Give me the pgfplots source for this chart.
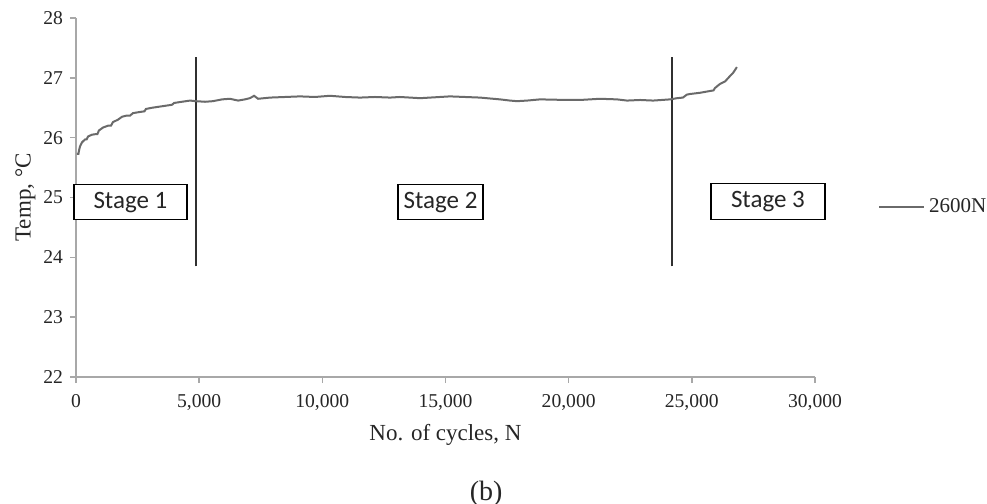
\documentclass[border=0pt]{standalone}
\usepackage{fontspec}
\setmainfont{Liberation Serif}
\newfontfamily\stagefont{Carlito}
\usepackage{pgfplots}
\pgfplotsset{compat=1.18}

\definecolor{curvegray}{HTML}{6A6A6A}
\definecolor{axisgray}{HTML}{A8A8A8}
\definecolor{stageline}{HTML}{303030}

\begin{document}
\begin{tikzpicture}
\begin{axis}[
  scale only axis,
  width=369.5pt, height=179.5pt,
  xmin=0, xmax=30000, ymin=22, ymax=28,
  axis lines*=left,
  axis line style={axisgray, line width=0.9pt},
  tick align=outside,
  major tick length=3pt,
  tick style={axisgray, line width=0.7pt},
  xtick={0,5000,...,30000},
  ytick={22,23,...,28},
  scaled x ticks=false,
  /pgf/number format/assume math mode=true,
  xticklabel style={/pgf/number format/1000 sep={,}, yshift=-2pt},
  tick label style={font=\fontsize{9.8}{11}\selectfont, text=black!85},
  xlabel={No. of cycles, N},
  ylabel={Temp, °C},
  xlabel style={yshift=0pt},
  ylabel style={yshift=-3pt},
  label style={font=\fontsize{11.5}{13}\selectfont, text=black!85},
  clip=false,
  legend style={at={(axis cs:32550,24.84)}, anchor=west, draw=none, fill=none,
    font=\fontsize{10.5}{12}\selectfont, text=black!85, inner sep=0pt,
    /tikz/every even column/.append style={column sep=0pt}},
  legend cell align=left,
  legend image code/.code={\draw[#1] (0pt,0pt) -- (22.5pt,0pt);},
]
% stage boundaries
\addplot[stageline, line width=0.7pt, forget plot] coordinates {(4870,23.85) (4870,27.35)};
\addplot[stageline, line width=0.7pt, forget plot] coordinates {(24200,23.85) (24200,27.35)};

% temperature record
\addplot[curvegray, line width=1pt] coordinates {
(40,25.73) (100,25.73) (120,25.78) (160,25.85) (240,25.92) (365,25.97) (430,25.97) (490,26.02)
(650,26.05) (810,26.06) (870,26.06) (930,26.12) (1100,26.17) (1300,26.20) (1420,26.20) (1500,26.26)
(1700,26.30) (1870,26.35) (2070,26.37) (2200,26.37) (2310,26.41) (2600,26.43) (2780,26.44) (2840,26.48)
(3090,26.50) (3410,26.52) (3740,26.54) (3900,26.55) (3980,26.58) (4300,26.60) (4630,26.62)
(4870,26.61) (5240,26.60) (5560,26.61) (5930,26.64) (6250,26.65) (6580,26.62)
(6860,26.64) (7060,26.66) (7230,26.70) (7390,26.65) (7880,26.67) (8490,26.68)
(9090,26.69) (9700,26.68) (10310,26.70) (10920,26.68) (11530,26.67) (12140,26.68)
(12750,26.67) (13150,26.68) (13970,26.66) (15180,26.69) (16400,26.67) (17210,26.64)
(17620,26.62) (17900,26.61) (18310,26.62) (18840,26.64) (19930,26.63) (20460,26.63)
(21270,26.65) (21960,26.64) (22370,26.62) (22900,26.63) (23430,26.62) (24120,26.64)
(24400,26.66) (24640,26.67) (24800,26.72) (24930,26.73) (25330,26.75) (25740,26.78) (25880,26.79) (25940,26.83)
(26150,26.90) (26350,26.94) (26550,27.03) (26670,27.08) (26830,27.18)
};
\addlegendentry{2600N}

% stage labels
\node[draw=black, line width=0.6pt, fill=white, minimum width=56.5pt, minimum height=17.5pt,
  inner sep=0pt, font=\stagefont\fontsize{12.5}{14}\selectfont, text=black!85] at (axis cs:2210,24.92) {Stage 1};
\node[draw=black, line width=0.6pt, fill=white, minimum width=42.5pt, minimum height=17.5pt,
  inner sep=0pt, font=\stagefont\fontsize{12.5}{14}\selectfont, text=black!85] at (axis cs:14800,24.92) {Stage 2};
\node[draw=black, line width=0.6pt, fill=white, minimum width=57pt, minimum height=18pt,
  inner sep=0pt, font=\stagefont\fontsize{12.5}{14}\selectfont, text=black!85] at (axis cs:28090,24.93) {Stage 3};

\node[font=\fontsize{14}{16}\selectfont, text=black!85] at (axis cs:16650,20.05) {(b)};
\coordinate (origin) at (axis cs:0,22);
\end{axis}
\pgfresetboundingbox
\path (origin) ++(-38pt,188.5pt) rectangle ++(493.5pt,-252pt);
\end{tikzpicture}
\end{document}
